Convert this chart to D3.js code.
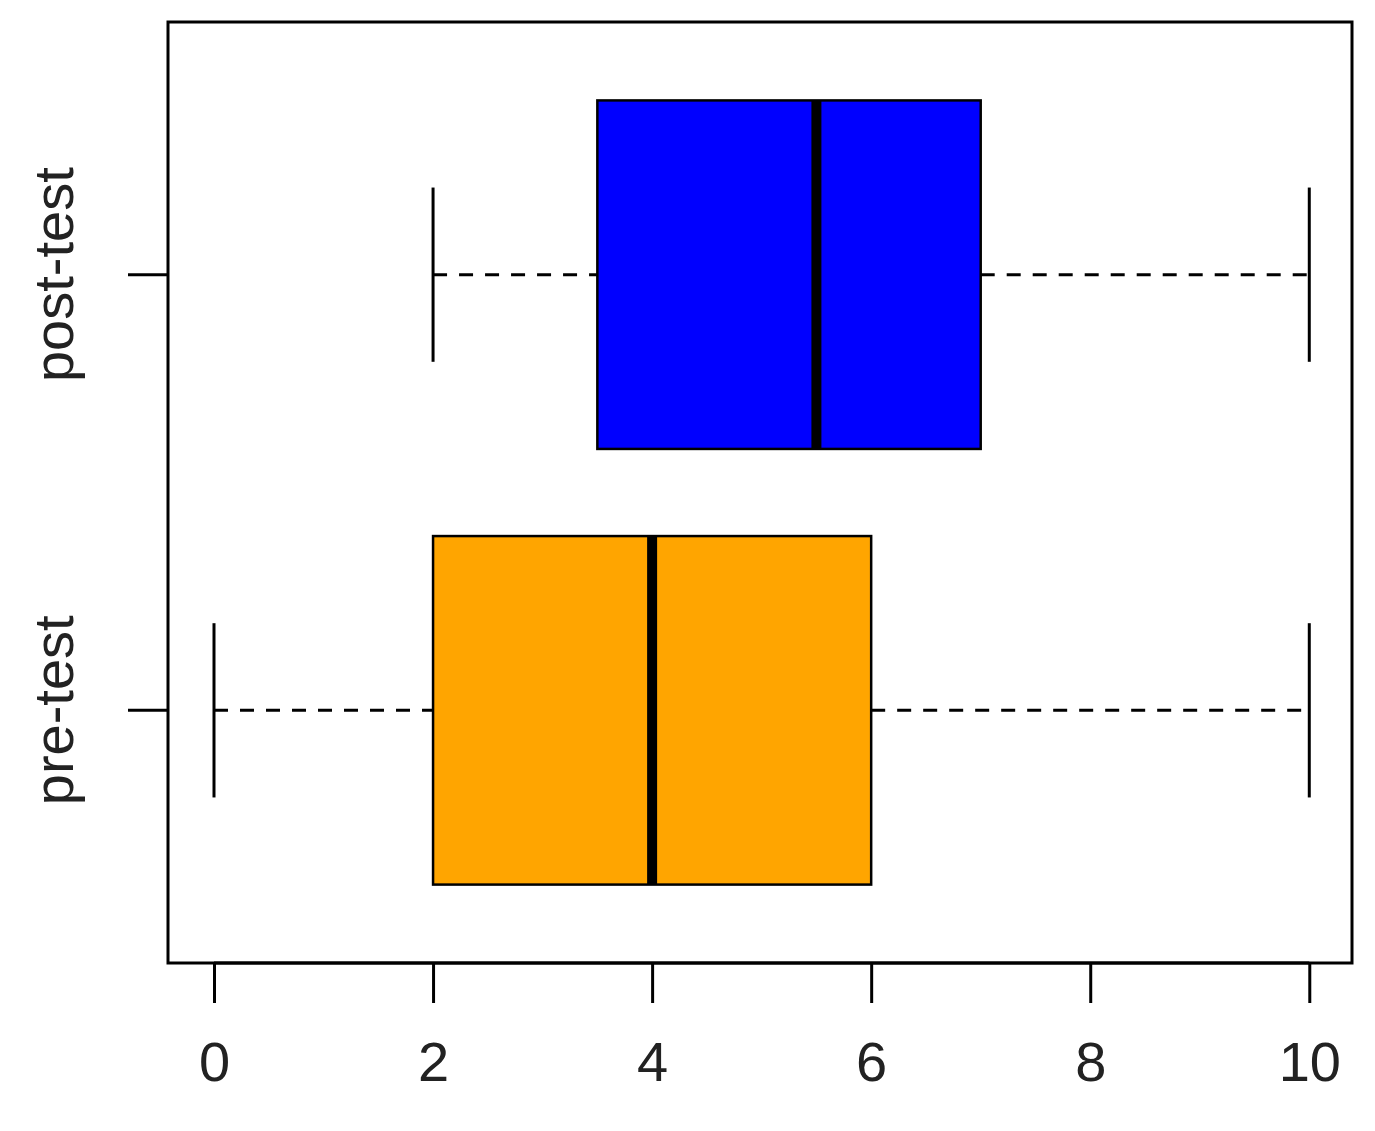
<!DOCTYPE html>
<html><head><meta charset="utf-8">
<script src="https://cdn.jsdelivr.net/npm/d3@7"></script>
<style>body{margin:0;background:#fff}</style>
</head><body>
<svg id="chart" width="1375" height="1131"></svg>
<script>
var groups = ["pre-test", "post-test"];
var mins = [0, 2];
var q1s = [2, 3.5];
var medians = [4, 5.5];
var q3s = [6, 7];
var maxs = [10, 10];
var colors = ["orange", "blue"];
var xTicks = [0, 2, 4, 6, 8, 10];

var svg = d3.select("#chart");
var x = d3.scaleLinear().domain([-0.42, 10.39]).range([168, 1352]);
var y = d3.scaleLinear().domain([0.42, 2.58]).range([963, 22]);
var half = (y(0) - y(0.4));
var capHalf = (y(0) - y(0.2));

groups.forEach(function(g, i) {
    var c = y(i + 1);
    var dash = "14,12";
    // whiskers
    svg.append("line").attr("x1", x(mins[i])).attr("x2", x(q1s[i])).attr("y1", c).attr("y2", c)
        .attr("stroke", "#000").attr("stroke-width", 3).attr("stroke-dasharray", dash);
    svg.append("line").attr("x1", x(q3s[i])).attr("x2", x(maxs[i])).attr("y1", c).attr("y2", c)
        .attr("stroke", "#000").attr("stroke-width", 3).attr("stroke-dasharray", dash);
    [mins[i], maxs[i]].forEach(function(v) {
        svg.append("line").attr("x1", x(v)).attr("x2", x(v)).attr("y1", c - capHalf).attr("y2", c + capHalf)
            .attr("stroke", "#000").attr("stroke-width", 3);
    });
    svg.append("rect").attr("x", x(q1s[i])).attr("y", c - half)
        .attr("width", x(q3s[i]) - x(q1s[i])).attr("height", 2 * half)
        .attr("fill", colors[i]).attr("stroke", "#000").attr("stroke-width", 2.5);
    svg.append("line").attr("x1", x(medians[i])).attr("x2", x(medians[i])).attr("y1", c - half).attr("y2", c + half)
        .attr("stroke", "#000").attr("stroke-width", 10);
});

// frame
svg.append("rect").attr("x", 168).attr("y", 22).attr("width", 1352 - 168).attr("height", 963 - 22)
    .attr("fill", "none").attr("stroke", "#000").attr("stroke-width", 3);

// x axis
var xAxis = svg.append("g").attr("transform", "translate(0,963)")
    .call(d3.axisBottom(x).tickValues(xTicks).tickSize(40).tickPadding(38).tickFormat(d3.format("d")));
xAxis.select(".domain").attr("d", "M" + x(0) + ",0H" + x(10)).attr("stroke-width", 3);
xAxis.selectAll(".tick line").attr("stroke-width", 3);
xAxis.selectAll("text").attr("font-family", "Liberation Sans, Arial").attr("font-size", 56).attr("fill", "#222");

// y axis
groups.forEach(function(g, i) {
    var c = y(i + 1);
    svg.append("line").attr("x1", 128).attr("x2", 168).attr("y1", c).attr("y2", c)
        .attr("stroke", "#000").attr("stroke-width", 3);
    svg.append("text").attr("transform", "translate(73," + c + ") rotate(-90)")
        .attr("text-anchor", "middle").attr("font-family", "Liberation Sans, Arial")
        .attr("font-size", 56).attr("fill", "#222").text(g);
});
</script>
</body></html>
